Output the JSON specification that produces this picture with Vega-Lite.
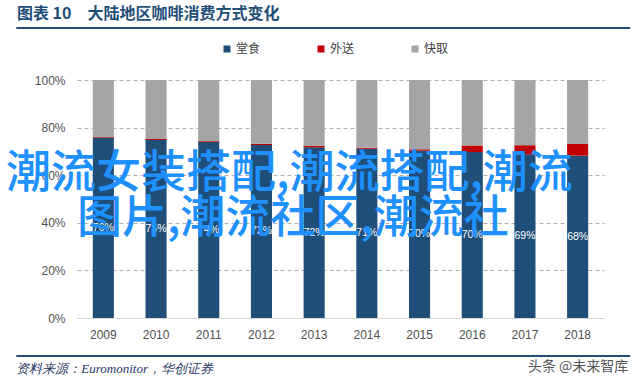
{
  "$schema": "https://vega.github.io/schema/vega-lite/v6.json",
  "width": 527,
  "height": 238,
  "autosize": {"type": "none"},
  "padding": {"left": 77, "top": 80, "right": 36, "bottom": 67},
  "background": "white",
  "config": {"view": {"stroke": null}, "font": "Liberation Sans"},
  "datasets": {
    "share": [
      {"year": "2009", "type": "堂食", "share": 0.758},
      {"year": "2009", "type": "外送", "share": 0.004},
      {"year": "2009", "type": "快取", "share": 0.238},
      {"year": "2010", "type": "堂食", "share": 0.748},
      {"year": "2010", "type": "外送", "share": 0.004},
      {"year": "2010", "type": "快取", "share": 0.248},
      {"year": "2011", "type": "堂食", "share": 0.739},
      {"year": "2011", "type": "外送", "share": 0.004},
      {"year": "2011", "type": "快取", "share": 0.257},
      {"year": "2012", "type": "堂食", "share": 0.727},
      {"year": "2012", "type": "外送", "share": 0.005},
      {"year": "2012", "type": "快取", "share": 0.268},
      {"year": "2013", "type": "堂食", "share": 0.717},
      {"year": "2013", "type": "外送", "share": 0.007},
      {"year": "2013", "type": "快取", "share": 0.276},
      {"year": "2014", "type": "堂食", "share": 0.711},
      {"year": "2014", "type": "外送", "share": 0.004},
      {"year": "2014", "type": "快取", "share": 0.285},
      {"year": "2015", "type": "堂食", "share": 0.703},
      {"year": "2015", "type": "外送", "share": 0.006},
      {"year": "2015", "type": "快取", "share": 0.291},
      {"year": "2016", "type": "堂食", "share": 0.697},
      {"year": "2016", "type": "外送", "share": 0.028},
      {"year": "2016", "type": "快取", "share": 0.275},
      {"year": "2017", "type": "堂食", "share": 0.688},
      {"year": "2017", "type": "外送", "share": 0.038},
      {"year": "2017", "type": "快取", "share": 0.274},
      {"year": "2018", "type": "堂食", "share": 0.682},
      {"year": "2018", "type": "外送", "share": 0.049},
      {"year": "2018", "type": "快取", "share": 0.269}
    ]
  },
  "resolve": {"scale": {"x": "independent"}},
  "layer": [
    {
      "data": {"name": "share"},
      "mark": {"type": "bar"},
      "encoding": {
        "x": {
          "field": "year", "type": "nominal",
          "scale": {"paddingInner": 0.6, "paddingOuter": 0.3},
          "axis": {"title": null, "labelAngle": 0, "domain": true, "domainColor": "#D9D9D9", "domainWidth": 1, "ticks": false, "tickSize": 0, "labelPadding": 11, "labelFontSize": 12, "labelColor": "#505050", "grid": false}
        },
        "y": {
          "field": "share", "type": "quantitative", "stack": "zero",
          "scale": {"domain": [0, 1], "nice": false},
          "axis": {"title": null, "format": ".0%", "values": [0, 0.2, 0.4, 0.6, 0.8, 1], "domain": false, "ticks": false, "tickSize": 0, "labelPadding": 12, "labelFontSize": 12, "labelColor": "#505050", "grid": true, "gridDash": [4, 3], "gridColor": "#B0B0B0", "gridWidth": 1}
        },
        "color": {
          "field": "type", "type": "nominal",
          "scale": {"domain": ["堂食", "外送", "快取"], "range": ["#1F4E79", "#C00000", "#A5A5A5"]},
          "legend": {"title": null, "orient": "none", "legendX": 144, "legendY": -37, "direction": "horizontal", "columns": 3, "symbolType": "square", "symbolSize": 49, "symbolStrokeWidth": 0, "labelFontSize": 12, "labelColor": "#404040", "labelFont": "Noto Sans CJK SC", "labelOffset": 3, "columnPadding": 54, "padding": 0}
        },
        "order": {"field": "type", "sort": "ascending"}
      }
    },
    {
      "data": {"name": "share"},
      "transform": [{"filter": "datum.type === '堂食'"}, {"calculate": "datum.share / 2", "as": "mid"}],
      "mark": {"type": "text", "color": "white", "fontSize": 10.5, "baseline": "middle", "align": "center"},
      "encoding": {
        "x": {"field": "year", "type": "nominal", "scale": {"paddingInner": 0.6, "paddingOuter": 0.3}, "axis": null},
        "y": {"field": "mid", "type": "quantitative", "scale": {"domain": [0, 1], "nice": false}},
        "text": {"field": "share", "format": ".0%"}
      }
    },
    {
      "data": {"values": [{"item": "title rule"}]},
      "mark": {"type": "rule", "color": "#1F4E79", "strokeWidth": 2},
      "encoding": {
        "x": {"datum": -0.1152, "type": "quantitative", "scale": {"domain": [0, 1]}, "axis": null},
        "x2": {"datum": 1.0499},
        "y": {"datum": 1.2185, "type": "quantitative", "scale": {"domain": [0, 1], "nice": false}}
      }
    },
    {
      "data": {"values": [{"item": "footer rule"}]},
      "mark": {"type": "rule", "color": "#1F4E79", "strokeWidth": 2},
      "encoding": {
        "x": {"datum": -0.1152, "type": "quantitative", "scale": {"domain": [0, 1]}, "axis": null},
        "x2": {"datum": 1.0499},
        "y": {"datum": -0.1597, "type": "quantitative", "scale": {"domain": [0, 1], "nice": false}}
      }
    },
    {
      "data": {"values": [{"text": "图表 10　大陆地区咖啡消费方式变化"}]},
      "mark": {"type": "text", "align": "left", "baseline": "middle", "font": "Noto Sans CJK SC", "fontWeight": "bold", "fontSize": 16, "color": "#1F4E79"},
      "encoding": {
        "x": {"datum": -0.114, "type": "quantitative", "scale": {"domain": [0, 1]}, "axis": null},
        "y": {"datum": 1.277, "type": "quantitative", "scale": {"domain": [0, 1], "nice": false}},
        "text": {"field": "text"}
      }
    },
    {
      "data": {"values": [{"text": "资料来源：Euromonitor，华创证券"}]},
      "mark": {"type": "text", "align": "left", "baseline": "middle", "font": "Liberation Serif", "fontStyle": "italic", "fontSize": 13, "color": "#1F3864"},
      "encoding": {
        "x": {"datum": -0.1152, "type": "quantitative", "scale": {"domain": [0, 1]}, "axis": null},
        "y": {"datum": -0.2143, "type": "quantitative", "scale": {"domain": [0, 1], "nice": false}},
        "text": {"field": "text"}
      }
    },
    {
      "data": {"values": [{"text": "头条 @未来智库"}]},
      "mark": {"type": "text", "align": "right", "baseline": "middle", "font": "Noto Sans CJK SC", "fontSize": 14, "color": "#555555"},
      "encoding": {
        "x": {"datum": 1.0461, "type": "quantitative", "scale": {"domain": [0, 1]}, "axis": null},
        "y": {"datum": -0.2059, "type": "quantitative", "scale": {"domain": [0, 1], "nice": false}},
        "text": {"field": "text"}
      }
    },
    {
      "data": {"values": [{"text": "潮流女装搭配,潮流搭配,潮流"}]},
      "mark": {"type": "text", "align": "center", "baseline": "middle", "font": "Noto Sans CJK SC", "fontWeight": 500, "fontSize": 45, "color": "#1E90FF"},
      "encoding": {
        "x": {"datum": 0.4030, "type": "quantitative", "scale": {"domain": [0, 1]}, "axis": null},
        "y": {"datum": 0.605, "type": "quantitative", "scale": {"domain": [0, 1], "nice": false}},
        "text": {"field": "text"}
      }
    },
    {
      "data": {"values": [{"text": "图片,潮流社区,潮流社"}]},
      "mark": {"type": "text", "align": "center", "baseline": "middle", "font": "Noto Sans CJK SC", "fontWeight": 500, "fontSize": 45, "color": "#1E90FF"},
      "encoding": {
        "x": {"datum": 0.4095, "type": "quantitative", "scale": {"domain": [0, 1]}, "axis": null},
        "y": {"datum": 0.416, "type": "quantitative", "scale": {"domain": [0, 1], "nice": false}},
        "text": {"field": "text"}
      }
    }
  ]
}
